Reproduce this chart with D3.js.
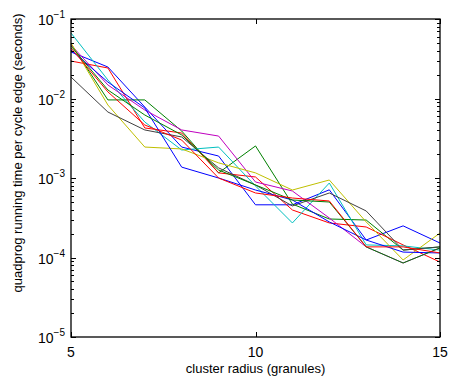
<!DOCTYPE html>
<html>
<head>
<meta charset="utf-8">
<script src="https://cdn.jsdelivr.net/npm/d3@7"></script>
<style>
  body { margin: 0; background: #fff; }
  svg { display: block; font-family: "Liberation Sans", Arial, sans-serif; }
</style>
</head>
<body>
<div id="chart"></div>
<script>
// --- data ---
const radius = [5, 6, 7, 8, 9, 10, 11, 12, 13, 14, 15];
const runB1 = [0.0385, 0.0249, 0.0078, 0.00245, 0.00189, 0.00046, 0.00046, 0.00071, 0.000166, 0.00025, 0.000152];
const runG1 = [0.0485, 0.0096, 0.0096, 0.0039, 0.00116, 0.00253, 0.00047, 0.000305, 0.000296, 0.000124, 0.000136];
const runR1 = [0.0296, 0.0242, 0.00426, 0.00368, 0.00116, 0.00103, 0.000396, 0.000272, 0.000242, 0.000144, 0.0000877];
const runC = [0.0667, 0.0171, 0.00506, 0.00225, 0.00245, 0.000793, 0.000272, 0.000865, 0.000144, 0.00014, 0.000124];
const runM = [0.0471, 0.0148, 0.00716, 0.00402, 0.00337, 0.000891, 0.000686, 0.000314, 0.000136, 0.0000853, 0.000132];
const runY = [0.0499, 0.00828, 0.00245, 0.00232, 0.00155, 0.00116, 0.000706, 0.000944, 0.00028, 0.0000931, 0.000203];
const runK = [0.0186, 0.00676, 0.00402, 0.00328, 0.00134, 0.000817, 0.000445, 0.000648, 0.000385, 0.000124, 0.000136];
const runB2 = [0.0407, 0.0161, 0.0076, 0.00137, 0.001, 0.000706, 0.000529, 0.00028, 0.000166, 0.000117, 0.000114];
const runG2 = [0.0457, 0.0128, 0.0062, 0.00348, 0.00126, 0.000817, 0.000529, 0.000499, 0.000136, 0.0000853, 0.000132];
const runR2 = [0.0432, 0.0121, 0.00464, 0.003, 0.001, 0.000648, 0.00056, 0.000514, 0.000136, 0.000136, 0.000114];

const runs = [runB1, runG1, runR1, runC, runM, runY, runK, runB2, runG2, runR2];
const runColors = ['#0000ff', '#008000', '#ff0000', '#00bfbf', '#bf00bf', '#bfbf00', '#404040', '#0000ff', '#008000', '#ff0000'];

const xTicks = [5, 10, 15];
const yTicks = [1e-5, 1e-4, 1e-3, 1e-2, 1e-1];
const yExps = ['\u22125', '\u22124', '\u22123', '\u22122', '\u22121'];

// --- layout ---
const W = 449, H = 381;
const plot = { left: 71, right: 440, top: 19, bottom: 337 };

const svg = d3.select('#chart').append('svg').attr('width', W).attr('height', H);

const x = d3.scaleLinear().domain([5, 15]).range([plot.left, plot.right]);
const y = d3.scaleLog().domain([1e-5, 1e-1]).range([plot.bottom, plot.top]);

// lines
const line = d3.line()
  .x((d, i) => x(radius[i]))
  .y(d => y(d));

svg.append('g').selectAll('path')
  .data(runs)
  .join('path')
  .attr('d', d => line(d))
  .attr('fill', 'none')
  .attr('stroke', (d, i) => runColors[i])
  .attr('stroke-width', 1);

// minor ticks on log axis
const minor = [];
for (let e = -5; e < -1; e++) {
  for (let m = 2; m <= 9; m++) minor.push(m * Math.pow(10, e));
}
const ticks = svg.append('g').attr('stroke', '#000').attr('stroke-width', 1);
minor.forEach(v => {
  const yy = Math.round(y(v)) + 0.5;
  ticks.append('line').attr('x1', plot.left).attr('x2', plot.left + 3).attr('y1', yy).attr('y2', yy);
  ticks.append('line').attr('x1', plot.right).attr('x2', plot.right - 3).attr('y1', yy).attr('y2', yy);
});
yTicks.forEach(v => {
  const yy = Math.round(y(v)) + 0.5;
  ticks.append('line').attr('x1', plot.left).attr('x2', plot.left + 5).attr('y1', yy).attr('y2', yy);
  ticks.append('line').attr('x1', plot.right).attr('x2', plot.right - 5).attr('y1', yy).attr('y2', yy);
});
xTicks.forEach(v => {
  const xx = Math.round(x(v)) + 0.5;
  ticks.append('line').attr('x1', xx).attr('x2', xx).attr('y1', plot.bottom).attr('y2', plot.bottom - 5);
  ticks.append('line').attr('x1', xx).attr('x2', xx).attr('y1', plot.top).attr('y2', plot.top + 5);
});

// box
svg.append('rect')
  .attr('x', plot.left).attr('y', plot.top)
  .attr('width', plot.right - plot.left).attr('height', plot.bottom - plot.top)
  .attr('fill', 'none').attr('stroke', '#000').attr('stroke-width', 1.3);

// x tick labels
svg.append('g').selectAll('text')
  .data(xTicks)
  .join('text')
  .attr('x', d => x(d))
  .attr('y', plot.bottom + 20)
  .attr('text-anchor', 'middle')
  .attr('font-size', 14)
  .text(d => d);

// y tick labels: 10^e
const yl = svg.append('g').selectAll('text')
  .data(yTicks)
  .join('text')
  .attr('x', 38)
  .attr('y', d => y(d) + 6)
  .attr('font-size', 14);
yl.append('tspan').text('10');
yl.append('tspan').attr('dy', -7).attr('font-size', 10).text((d, i) => yExps[i]);

// axis titles
svg.append('text')
  .attr('x', (plot.left + plot.right) / 2)
  .attr('y', 373)
  .attr('text-anchor', 'middle')
  .attr('font-size', 13)
  .text('cluster radius (granules)');

svg.append('text')
  .attr('transform', 'translate(22,' + ((plot.top + plot.bottom) / 2 - 25) + ') rotate(-90)')
  .attr('text-anchor', 'middle')
  .attr('font-size', 13)
  .text('quadprog running time per cycle edge (seconds)');
</script>
</body>
</html>
